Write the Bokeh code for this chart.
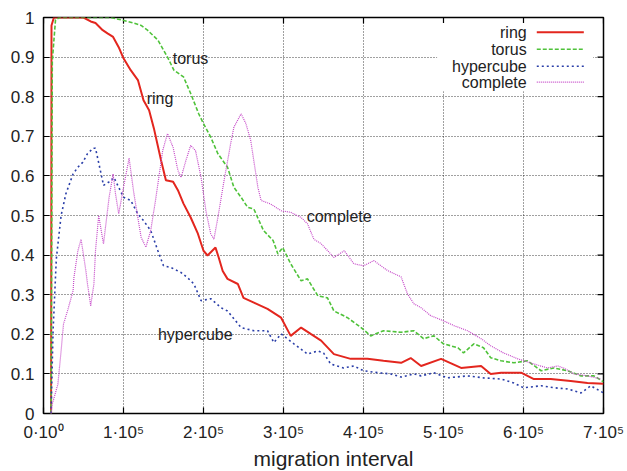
import math
from bokeh.plotting import figure
from bokeh.models import (FixedTicker, CustomJSTickFormatter, Title,
                          Range1d, ColumnDataSource)
from bokeh.core.properties import value
from bokeh.embed import file_html
from bokeh.resources import INLINE

# x values are given in units of 1e5 (migration interval)
SCALE = 1e5

ring_x = [0.095, 0.10, 0.13, 0.50, 0.59, 0.65, 0.74, 0.80, 0.87, 0.94, 1.00,
          1.09, 1.18, 1.25, 1.32, 1.38, 1.47, 1.53, 1.62, 1.68, 1.75, 1.84,
          1.93, 2.00, 2.05, 2.15, 2.19, 2.24, 2.30, 2.43, 2.50, 2.63, 2.80,
          2.97, 3.09, 3.22, 3.34, 3.47, 3.63, 3.84, 4.05, 4.25, 4.47, 4.59,
          4.72, 4.97, 5.22, 5.47, 5.59, 5.72, 5.97, 6.13, 6.34, 6.59, 6.80, 7.00]
ring_y = [0.0, 0.98, 1.0, 1.0, 0.99, 0.986, 0.968, 0.96, 0.951, 0.925, 0.897,
          0.867, 0.842, 0.791, 0.766, 0.72, 0.639, 0.589, 0.585, 0.564, 0.53, 0.495,
          0.454, 0.411, 0.399, 0.419, 0.394, 0.36, 0.34, 0.327, 0.292, 0.28, 0.264,
          0.242, 0.196, 0.217, 0.201, 0.184, 0.15, 0.138, 0.138, 0.133, 0.128, 0.14,
          0.12, 0.138, 0.115, 0.12, 0.10, 0.103, 0.103, 0.087, 0.087, 0.082, 0.077, 0.075]

torus_x = [0.095, 0.11, 0.15, 0.20, 0.84, 0.97, 1.13, 1.22, 1.30, 1.43, 1.55,
           1.63, 1.75, 1.84, 1.94, 2.00, 2.09, 2.18, 2.30, 2.38, 2.47, 2.55,
           2.63, 2.75, 2.87, 2.93, 2.99, 3.09, 3.22, 3.30, 3.43, 3.55, 3.63,
           3.80, 3.97, 4.09, 4.25, 4.47, 4.63, 4.75, 4.88, 5.00, 5.18, 5.25,
           5.38, 5.50, 5.59, 5.72, 5.88, 6.05, 6.22, 6.38, 6.55, 6.72, 6.88, 7.00]
torus_y = [0.0, 0.89, 0.994, 1.0, 1.0, 0.994, 0.986, 0.98, 0.968, 0.943, 0.90,
           0.867, 0.85, 0.808, 0.757, 0.732, 0.698, 0.656, 0.622, 0.571, 0.546, 0.521,
           0.516, 0.462, 0.437, 0.403, 0.419, 0.378, 0.335, 0.34, 0.297, 0.292, 0.259,
           0.242, 0.217, 0.196, 0.209, 0.205, 0.209, 0.189, 0.196, 0.176, 0.166, 0.153,
           0.176, 0.166, 0.141, 0.133, 0.128, 0.133, 0.108, 0.115, 0.108, 0.095, 0.095, 0.08]

hyper_x = [0.095, 0.10, 0.12, 0.16, 0.22, 0.28, 0.37, 0.43, 0.49, 0.55, 0.62,
           0.65, 0.72, 0.75, 0.82, 0.88, 0.94, 1.00, 1.09, 1.18, 1.25, 1.34,
           1.37, 1.43, 1.50, 1.59, 1.72, 1.80, 1.88, 1.97, 2.09, 2.22, 2.30,
           2.47, 2.63, 2.80, 2.88, 2.97, 3.13, 3.30, 3.43, 3.50, 3.59, 3.75,
           3.88, 4.00, 4.18, 4.34, 4.47, 4.63, 4.72, 4.88, 5.05, 5.30, 5.50,
           5.72, 5.88, 6.00, 6.22, 6.38, 6.55, 6.72, 6.84, 7.00]
hyper_y = [0.0, 0.05, 0.21, 0.39, 0.50, 0.555, 0.605, 0.622, 0.634, 0.656, 0.67,
           0.67, 0.605, 0.576, 0.585, 0.596, 0.571, 0.546, 0.538, 0.504, 0.487, 0.462,
           0.445, 0.411, 0.373, 0.369, 0.356, 0.343, 0.327, 0.285, 0.29, 0.267, 0.259,
           0.217, 0.209, 0.209, 0.179, 0.201, 0.176, 0.15, 0.158, 0.153, 0.125, 0.115,
           0.12, 0.108, 0.103, 0.10, 0.092, 0.10, 0.095, 0.103, 0.09, 0.095, 0.09,
           0.087, 0.077, 0.065, 0.07, 0.065, 0.062, 0.052, 0.07, 0.052]

complete_x = [0.095, 0.11, 0.18, 0.22, 0.25, 0.30, 0.37, 0.38, 0.43, 0.47, 0.53,
              0.55, 0.59, 0.63, 0.65, 0.69, 0.75, 0.82, 0.87, 0.90, 0.94, 1.00,
              1.07, 1.13, 1.22, 1.28, 1.34, 1.40, 1.49, 1.55, 1.62, 1.68, 1.72,
              1.78, 1.84, 1.90, 1.97, 2.03, 2.09, 2.13, 2.18, 2.25, 2.34, 2.38,
              2.47, 2.53, 2.59, 2.68, 2.72, 2.84, 2.97, 3.09, 3.22, 3.30, 3.38,
              3.47, 3.63, 3.76, 3.88, 4.00, 4.13, 4.30, 4.47, 4.55, 4.63, 4.72,
              4.84, 5.00, 5.13, 5.30, 5.47, 5.59, 5.75, 5.93, 6.13, 6.30, 6.43,
              6.50, 6.63, 6.80, 6.97]
complete_y = [0.0, 0.024, 0.074, 0.158, 0.226, 0.259, 0.31, 0.343, 0.411, 0.44, 0.36,
              0.327, 0.272, 0.327, 0.411, 0.50, 0.428, 0.546, 0.605, 0.555, 0.504, 0.571,
              0.645, 0.555, 0.445, 0.42, 0.462, 0.538, 0.664, 0.707, 0.672, 0.614, 0.596,
              0.639, 0.677, 0.664, 0.596, 0.512, 0.454, 0.44, 0.495, 0.58, 0.682, 0.723,
              0.757, 0.732, 0.69, 0.571, 0.538, 0.529, 0.512, 0.508, 0.495, 0.479, 0.44,
              0.429, 0.394, 0.411, 0.378, 0.373, 0.386, 0.361, 0.345, 0.302, 0.277, 0.267,
              0.247, 0.234, 0.222, 0.209, 0.189, 0.171, 0.153, 0.138, 0.125, 0.115, 0.12,
              0.115, 0.10, 0.095, 0.087]

series_names = ["ring", "torus", "hypercube", "complete"]
x_ticks = [0, 1, 2, 3, 4, 5, 6, 7]
y_ticks = [0, 0.1, 0.2, 0.3, 0.4, 0.5, 0.6, 0.7, 0.8, 0.9, 1.0]

FONT = "Liberation Sans"
TEXT = "#222222"

styles = {
    "ring":      dict(color="#e3261e", width=2.0, dash="solid"),
    "torus":     dict(color="#4fc23a", width=1.6, dash="4 2"),
    "hypercube": dict(color="#2a3ea8", width=1.6, dash="2 3"),
    "complete":  dict(color="#c548c8", width=1.2, dash="1 1"),
}

p = figure(width=627, height=471, output_backend="svg", toolbar_location=None,
           x_range=Range1d(0, 7 * SCALE), y_range=Range1d(0, 1),
           min_border_left=43, min_border_right=24, min_border_top=17,
           min_border_bottom=58, background_fill_color="white",
           border_fill_color="white")

p.outline_line_color = "black"
p.outline_line_width = 1.5
p.outline_line_alpha = 1.0

xt = FixedTicker(ticks=[t * SCALE for t in x_ticks])
yt = FixedTicker(ticks=y_ticks)

x_fmt = CustomJSTickFormatter(code="""
    const k = Math.round(tick / 1e5);
    return k + "\u00b710" + (k === 0 ? "\u2070" : "\u2075");
""")
y_fmt = CustomJSTickFormatter(code="""
    return (Math.round(tick * 10) / 10).toString();
""")

for ax, tk, fm in ((p.xaxis[0], xt, x_fmt), (p.yaxis[0], yt, y_fmt)):
    ax.ticker = tk
    ax.formatter = fm
    ax.axis_line_color = None
    ax.major_tick_in = 6
    ax.major_tick_out = 0
    ax.major_tick_line_color = "black"
    ax.major_tick_line_width = 1.2
    ax.minor_tick_line_color = None
    ax.major_label_text_font = FONT
    ax.major_label_text_color = TEXT
    ax.major_label_text_font_size = "17px"
    ax.major_label_standoff = 9

# mirrored inward ticks on the top and right edges of the frame
p.ray(x=[t * SCALE for t in x_ticks], y=[1.0] * len(x_ticks), length=6,
      length_units="screen", angle=-math.pi / 2, line_color="black",
      line_width=1.2)
p.ray(x=[7 * SCALE] * len(y_ticks), y=y_ticks, length=6,
      length_units="screen", angle=math.pi, line_color="black",
      line_width=1.2)

# dotted grid on interior ticks only
p.xgrid.ticker = FixedTicker(ticks=[t * SCALE for t in x_ticks[1:-1]])
p.ygrid.ticker = FixedTicker(ticks=y_ticks[1:-1])
for g in (p.xgrid, p.ygrid):
    g.grid_line_color = "black"
    g.grid_line_dash = "1 2"
    g.grid_line_width = 1
    g.grid_line_alpha = 0.75

# white backing behind the key
p.quad(left=[4.92 * SCALE], right=[6.87 * SCALE], top=[0.986], bottom=[0.814],
       fill_color="white", line_color=None)

curves = {
    "ring": (ring_x, ring_y),
    "torus": (torus_x, torus_y),
    "hypercube": (hyper_x, hyper_y),
    "complete": (complete_x, complete_y),
}
for name in series_names:
    xs, ys = curves[name]
    st = styles[name]
    src = ColumnDataSource(dict(x=[v * SCALE for v in xs], y=ys))
    p.line("x", "y", source=src, line_color=st["color"],
           line_width=st["width"], line_dash=st["dash"])

# key: right-aligned names followed by a line sample
key_rows = [0.963, 0.92, 0.877, 0.837]
for name, yk in zip(series_names, key_rows):
    st = styles[name]
    p.line([6.166 * SCALE, 6.754 * SCALE], [yk, yk], line_color=st["color"],
           line_width=st["width"], line_dash=st["dash"])
p.text(x=[6.04 * SCALE] * 4, y=key_rows, text=series_names,
       text_align="right", text_baseline="middle",
       text_font=value(FONT), text_font_size=value("16px"), text_color=TEXT)

# curve names inside the plot
tag_src = ColumnDataSource(dict(
    x=[1.616 * SCALE, 1.29 * SCALE, 3.29 * SCALE, 1.43 * SCALE],
    y=[0.897, 0.796, 0.497, 0.199],
    text=["torus", "ring", "complete", "hypercube"]))
p.text("x", "y", text="text", source=tag_src, text_align="left",
       text_baseline="middle", text_font=value(FONT),
       text_font_size=value("16px"), text_color=TEXT)

# x-axis title, starting a little right of the frame's left third
p.add_layout(Title(text="migration interval", align="left", offset=210,
                   standoff=0, text_font=FONT, text_font_size="21px",
                   text_font_style="normal", text_color=TEXT), "below")

open("out.html", "w").write(file_html(p, INLINE))
